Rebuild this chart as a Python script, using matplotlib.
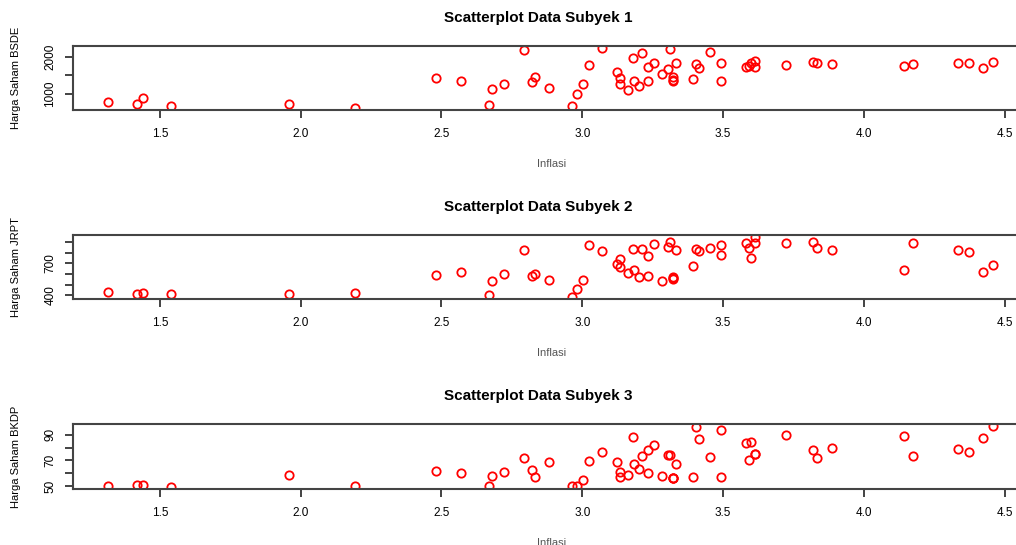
import matplotlib
matplotlib.use("Agg")
import matplotlib.pyplot as plt
import numpy as np

plt.rcParams['font.family'] = ['Liberation Sans', 'DejaVu Sans']

# Inflasi (shared x for all three subjects)
inflasi = [1.317, 1.417, 1.439, 1.538, 1.960, 2.192, 2.480, 2.571, 2.670, 2.680,
           2.723, 2.792, 2.822, 2.832, 2.881, 2.962, 2.982, 3.001, 3.024, 3.071,
           3.123, 3.133, 3.133, 3.162, 3.182, 3.183, 3.203, 3.213, 3.232, 3.233,
           3.254, 3.283, 3.303, 3.313, 3.323, 3.323, 3.324, 3.334, 3.393, 3.403,
           3.414, 3.453, 3.494, 3.494, 3.581, 3.591, 3.601, 3.612, 3.615, 3.724,
           3.819, 3.833, 3.886, 4.144, 4.176, 4.335, 4.375, 4.425, 4.458]

bsde = [774, 737, 887, 684, 737, 632, 1431, 1360, 703, 1124,
        1263, 2168, 1334, 1447, 1158, 676, 1010, 1263, 1773, 2228,
        1579, 1421, 1263, 1105, 1957, 1360, 1210, 2105, 1721, 1360,
        1842, 1544, 1668, 2194, 1447, 1387, 1342, 1842, 1405, 1807,
        1702, 2123, 1842, 1360, 1728, 1737, 1842, 1894, 1721, 1781,
        1852, 1842, 1800, 1747, 1800, 1826, 1842, 1694, 1852]

jrpt = [430, 412, 424, 412, 409, 418, 590, 621, 403, 532,
        596, 823, 578, 596, 547, 387, 458, 547, 869, 817,
        691, 740, 667, 608, 835, 633, 571, 838, 771, 584,
        881, 529, 856, 900, 571, 556, 563, 820, 672, 832,
        814, 844, 869, 777, 893, 847, 746, 943, 888, 888,
        902, 844, 820, 636, 893, 820, 810, 617, 685]

bkdp = [49.7, 50.8, 50.8, 49.5, 58.9, 49.7, 61.8, 59.9, 49.7, 57.8,
        60.7, 72.0, 62.8, 56.7, 68.8, 49.7, 49.7, 54.7, 69.8, 76.9,
        68.8, 61.0, 56.7, 58.9, 88.1, 66.9, 63.0, 73.8, 77.9, 60.2,
        82.1, 58.1, 74.0, 74.0, 56.5, 56.5, 56.3, 66.9, 56.7, 96.3,
        87.1, 73.0, 94.1, 56.7, 84.0, 70.6, 84.7, 75.1, 74.9, 90.0,
        77.9, 71.6, 79.8, 88.9, 73.8, 79.0, 76.9, 87.9, 96.7]

x_ticks = [1.5, 2.0, 2.5, 3.0, 3.5, 4.0, 4.5]

panels = [
    ("Scatterplot Data Subyek 1", "Harga Saham BSDE", bsde,
     [1000, 1500, 2000], ["1000", "", "2000"]),
    ("Scatterplot Data Subyek 2", "Harga Saham JRPT", jrpt,
     [400, 500, 600, 700, 800, 900], ["400", "", "", "700", "", ""]),
    ("Scatterplot Data Subyek 3", "Harga Saham BKDP", bkdp,
     [50, 60, 70, 80, 90], ["50", "", "70", "", "90"]),
]

# axes rectangles (left, bottom, width, height) - right edge runs off the image
rects = [(0.0719, 0.798, 0.940, 0.118),
         (0.0719, 0.4514, 0.940, 0.1174),
         (0.0719, 0.1028, 0.940, 0.1193)]

fig = plt.figure(figsize=(10.16, 5.45), dpi=100)

def r_range(v):
    lo, hi = min(v), max(v)
    pad = (hi - lo) * 0.04
    return lo - pad, hi + pad

for (title, ylab, yvals, yt, ytl), rect in zip(panels, rects):
    ax = fig.add_axes(rect)
    ax.plot(inflasi, yvals, 'o', mfc='none', mec='#ff0000', ms=6, mew=1.3)
    ax.set_xlim(r_range(inflasi))
    ax.set_ylim(r_range(yvals))

    ax.set_xticks(x_ticks)
    ax.set_xticklabels(["%.1f" % t for t in x_ticks])
    ax.set_yticks(yt)
    ax.set_yticklabels(ytl, rotation=90, va='center')
    ax.tick_params(axis='both', direction='out', length=6, width=1.2,
                   labelsize=8.5, color='#222222')
    ax.tick_params(axis='x', pad=7)
    ax.tick_params(axis='y', pad=6)

    for sp in ax.spines.values():
        sp.set_color('#444444')
        sp.set_linewidth(1.5)

    ax.text(0.487, 1.43, title, transform=ax.transAxes, ha='center', va='center',
            fontsize=11, fontweight='bold')
    ax.set_xlabel("Inflasi", fontsize=8, color='#555555')
    ax.xaxis.set_label_coords(0.501, -0.76)
    ax.set_ylabel(ylab, fontsize=8)
    ax.yaxis.set_label_coords(-0.054, 0.5)

fig.savefig("out.png", dpi=100)
